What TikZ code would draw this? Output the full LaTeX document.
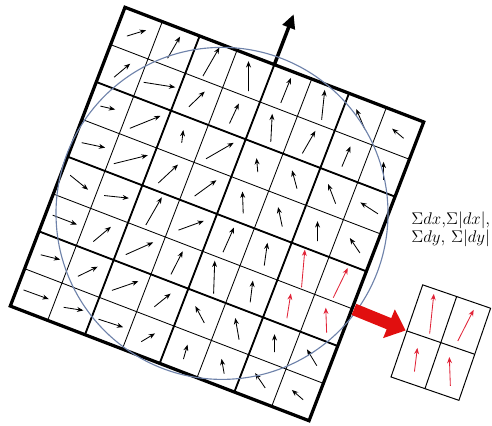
\documentclass[tikz,border=0pt]{standalone}
\usetikzlibrary{arrows.meta}

\definecolor{circblue}{RGB}{110,130,170}
\definecolor{vecred}{RGB}{225,35,55}
\definecolor{bigred}{RGB}{225,15,15}

\begin{document}
\begin{tikzpicture}[
    thingrid/.style={line width=0.6pt},
    blockgrid/.style={line width=1.3pt},
    border/.style={line width=2.3pt},
    vec/.style={line width=0.6pt, -{Stealth[length=4.5pt,width=3.5pt]}},
    redvec/.style={vec, vecred},
    fatarrow/.style={bigred, line width=0.3cm, -{Triangle[length=0.45cm,width=0.75cm]}}
]
    \useasboundingbox (0,0) rectangle (12.3,10.625);

    % ---- Ventana orientada (8x8 subregiones) ----
    \begin{scope}[shift={(5.425,5.275)}, rotate=-21]
        \draw[thingrid] (-4,-4) grid (4,4);
        \draw[blockgrid] (-4,-4) grid[step=2] (4,4);
        \draw[border] (-4,-4) rectangle (4,4);

        % orientacion dominante
        \coordinate (base) at (0,4);
        \coordinate (orient) at (0,5.35);
        \draw[line width=2.5pt, -{Triangle[length=10pt,width=9pt]}] (base) -- (orient);

        % gradientes: columna/fila/angulo/largo
        \foreach \i/\j/\a/\l in {
            0/0/17/20, 1/0/60/25, 2/0/60/33, 3/0/90/30, 4/0/68/27, 5/0/84/30, 6/0/113/22, 7/0/140/15,
            0/1/40/21, 1/1/-9/32, 2/1/44/22, 3/1/65/22, 4/1/87/28, 5/1/60/26, 6/1/67/22, 7/1/90/18,
            0/2/-13/15, 1/2/22/33, 2/2/83/13, 3/2/30/32, 4/2/95/14, 5/2/105/19, 6/2/111/21, 7/2/147/21,
            0/3/-12/24, 1/3/14/35, 2/3/43/27, 3/3/36/27, 4/3/92/22, 5/3/102/20, 6/3/90/20, 7/3/124/18,
            0/4/-39/23, 1/4/-6/25, 2/4/60/32, 3/4/20/27, 4/4/66/27, 5/4/82/23,
            0/5/-21/26, 1/5/40/23, 2/5/24/30, 3/5/63/26, 4/5/88/33, 5/5/83/22,
            0/6/-14/20, 1/6/26/22, 2/6/19/28, 3/6/39/21, 4/6/118/19, 5/6/100/22, 6/6/90/18, 7/6/121/19,
            0/7/-20/27, 1/7/-9/20, 2/7/-18/26, 3/7/31/16, 4/7/74/15, 5/7/100/15, 6/7/124/18, 7/7/139/15}
            \draw[vec] (\i-3.5,3.5-\j) +(\a+201:\l/80) -- +(\a+21:\l/80);

        % subregion seleccionada
        \foreach \i/\j/\a/\l in {6/4/85/38, 7/4/64/33, 6/5/81/25, 7/5/92/25}
            \draw[redvec] (\i-3.5,3.5-\j) +(\a+201:\l/80) -- +(\a+21:\l/80);

        \coordinate (redblock) at (4.05,-1);
    \end{scope}

    % ---- Region circular ----
    \draw[circblue, line width=0.8pt] (5.55,5.29) circle (4.15);

    % ---- Subregion ampliada ----
    \begin{scope}[shift={(11.02,2.06)}, rotate=-19]
        \draw[line width=0.7pt] (-0.8975,-1.2175) rectangle (0.8975,1.2175);
        \draw[line width=0.7pt] (0,-1.2175) -- (0,1.2175);
        \draw[line width=0.7pt] (-0.8975,0) -- (0.8975,0);
        \foreach \x/\y/\a/\l in {-0.449/0.609/84/40, 0.449/0.609/63/35,
                                 -0.449/-0.609/83/24, 0.449/-0.609/92/29}
            \draw[redvec] (\x,\y) +(\a+199:\l/80) -- +(\a+19:\l/80);
        \coordinate (zoomin) at (-0.93,0);
    \end{scope}

    \draw[fatarrow] (redblock) -- (zoomin);

    % ---- Sumas ----
    \node[anchor=base west, inner sep=0pt, align=left,
          font={\fontsize{12.5}{12.7}\selectfont\lineskiplimit=-20pt}] (sums) at (10.28,4.57)
        {$\Sigma dx$,$\Sigma|dx|$,\\$\Sigma dy$, $\Sigma|dy|$};
\end{tikzpicture}
\end{document}
